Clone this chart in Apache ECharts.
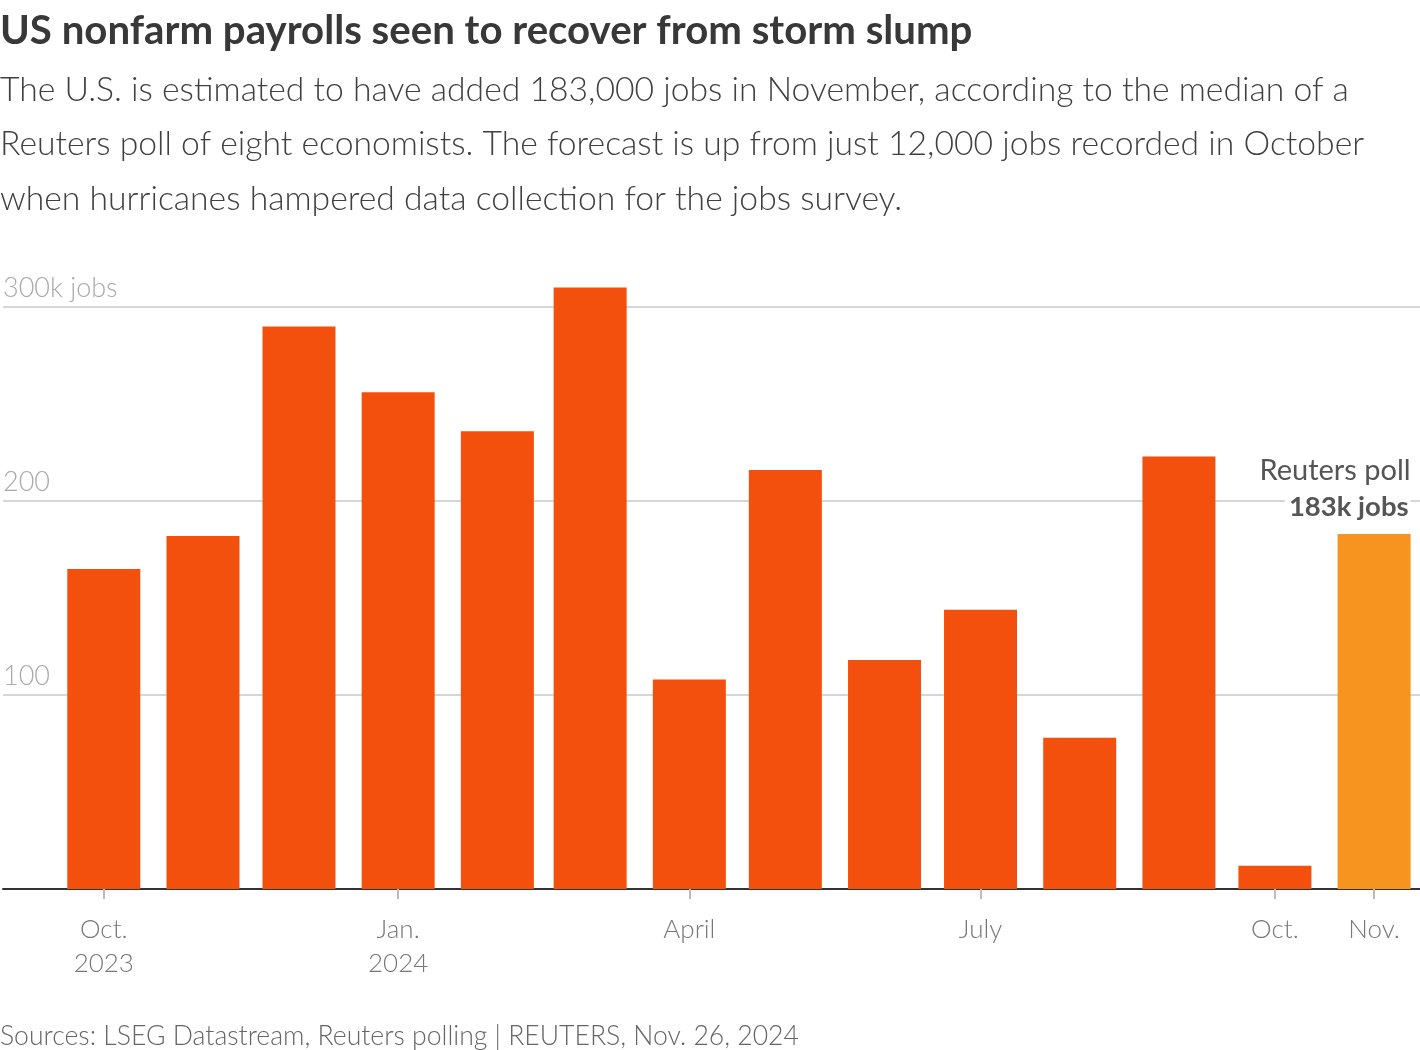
<!DOCTYPE html>
<html>
<head>
<meta charset="utf-8">
<script src="https://cdn.jsdelivr.net/npm/echarts@6/dist/echarts.min.js"></script>
<style>
html,body{margin:0;padding:0;background:#fff;}
#c{width:1420px;height:1050px;}
</style>
</head>
<body>
<div id="c"></div>
<script>
// ---- data ----
const months = ['2023-10','2023-11','2023-12','2024-01','2024-02','2024-03','2024-04','2024-05','2024-06','2024-07','2024-08','2024-09','2024-10','2024-11'];
const jobs = [165, 182, 290, 256, 236, 310, 108, 216, 118, 144, 78, 223, 12, 183];
const pollIndex = 13; // Nov. 2024 is the Reuters poll forecast
const tickMonths = ['2023-10','2024-01','2024-04','2024-07','2024-10','2024-11'];
const tickLabels = ['Oct.\n2023','Jan.\n2024','April','July','Oct.','Nov.'];
const yTickLabels = {0:'', 100:'100', 200:'200', 300:'300k jobs'};

const FONT = 'Lato';
const DAY = 86400000;
// x position = days since the first month (a time scale expressed in days)
function utc(m){ const [y,mo] = m.split('-').map(Number); return Date.UTC(y, mo-1, 1); }
const T0 = utc(months[0]);
function d(m){ return Math.round((utc(m) - T0)/DAY); }

const pxPerDay = 1273/397;
const lastDay = d(months[months.length-1]);
const xMin = lastDay - 1374/pxPerDay;
const xMax = xMin + 1420/pxPerDay;
const tickDays = tickMonths.map(d);

const data = months.map((m,i)=>{
  const item = {value:[d(m), jobs[i]]};
  if(i===pollIndex){
    item.itemStyle = {color:'#f7941f'};
    item.label = {
      show:true, position:'top', align:'right', offset:[36.5,-4],
      formatter:'{a|Reuters poll}\n{b|' + jobs[i] + 'k jobs}',
      rich:{
        a:{fontFamily:FONT, fontSize:29, fontWeight:'normal', color:'#555', lineHeight:36, align:'right'},
        b:{fontFamily:FONT, fontSize:27.5, fontWeight:'bold', color:'#555', lineHeight:36, align:'right', backgroundColor:'#fff', padding:[0,2,0,4]}
      }
    };
  }
  return item;
});

const chart = echarts.init(document.getElementById('c'), null, {renderer:'canvas'});
chart.setOption({
  backgroundColor:'#fff',
  animation:false,
  title:[
    {text:'US nonfarm payrolls seen to recover from storm slump', left:0, top:7, padding:0,
     textStyle:{fontFamily:FONT, fontSize:40.2, fontWeight:'bold', color:'#383838', lineHeight:48}},
    {text:'The U.S. is estimated to have added 183,000 jobs in November, according to the median of a\nReuters poll of eight economists. The forecast is up from just 12,000 jobs recorded in October\nwhen hurricanes hampered data collection for the jobs survey.',
     left:0, top:63, padding:0,
     textStyle:{fontFamily:FONT, fontSize:33.7, fontWeight:300, color:'#404040', lineHeight:54.4}},
    {text:'Sources: LSEG Datastream, Reuters polling | REUTERS, Nov. 26, 2024', left:0, top:1019, padding:0,
     textStyle:{fontFamily:FONT, fontSize:26.6, fontWeight:300, color:'#666', lineHeight:34}}
  ],
  grid:{left:0, right:0, top:307, bottom:161, containLabel:false},
  xAxis:{
    type:'value', min:xMin, max:xMax,
    axisLine:{show:true, onZero:false, lineStyle:{color:'#333', width:2}},
    axisTick:{show:true, customValues:tickDays, length:10, lineStyle:{color:'#bbb', width:2}},
    axisLabel:{show:true, customValues:tickDays, margin:24,
      fontFamily:FONT, fontSize:26, fontWeight:300, color:'#777', lineHeight:34,
      formatter:function(v){ const i = tickDays.indexOf(Math.round(v)); return i>=0 ? tickLabels[i] : ''; }},
    splitLine:{show:false}
  },
  yAxis:{
    type:'value', min:0, max:300, interval:100,
    axisLine:{show:false}, axisTick:{show:false},
    axisLabel:{inside:true, margin:0, align:'left', verticalAlign:'bottom', padding:[0,0,5,0],
      fontFamily:FONT, fontSize:27, fontWeight:300, color:'#aaa',
      formatter:function(v){ return yTickLabels[v] !== undefined ? yTickLabels[v] : ''; }},
    splitLine:{show:true, lineStyle:{color:'#c8c8c8', width:1.5}},
    z:0
  },
  series:[{
    type:'bar', data:data, barWidth:73, clip:false,
    itemStyle:{color:'#f4500d'},
    z:2
  }]
});
</script>
</body>
</html>
